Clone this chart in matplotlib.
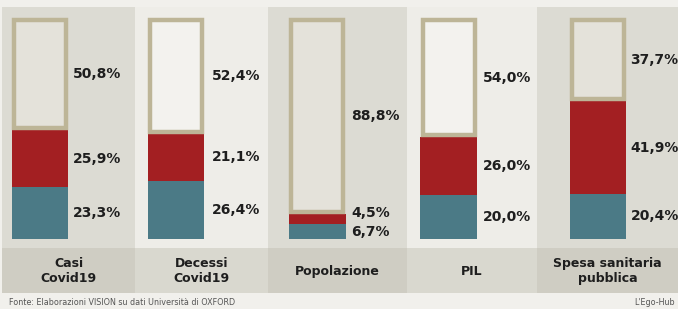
import matplotlib
matplotlib.use("Agg")
import matplotlib.pyplot as plt

# dati (percentuali)
categorie = ["Casi\nCovid19", "Decessi\nCovid19", "Popolazione", "PIL", "Spesa sanitaria\npubblica"]
blu = [23.3, 26.4, 6.7, 20.0, 20.4]
rosso = [25.9, 21.1, 4.5, 26.0, 41.9]
resto = [50.8, 52.4, 88.8, 54.0, 37.7]
etichette_blu = ["23,3%", "26,4%", "6,7%", "20,0%", "20,4%"]
etichette_rosso = ["25,9%", "21,1%", "4,5%", "26,0%", "41,9%"]
etichette_resto = ["50,8%", "52,4%", "88,8%", "54,0%", "37,7%"]

# impaginazione (unita' di categoria)
bordi = [-0.485, 0.497, 1.476, 2.501, 3.461, 4.5]
off_barra = [-0.205, -0.202, -0.162, -0.189, -0.090]
off_testo = [0.04, 0.06, 0.09, 0.06, 0.15]

C_BLU = "#4b7a86"
C_ROSSO = "#a31f22"
C_BORDO = "#bdb597"
FONDO = "#f1f0ec"
PANNELLO = ["#dcdbd3", "#eeede8"]
FASCIA = ["#cfcdc3", "#d9d8cf"]
INTERNO = ["#e4e2da", "#f3f2ee"]

fig = plt.figure(figsize=(6.78, 3.09), dpi=100)
fig.patch.set_facecolor(FONDO)
ax = fig.add_axes([0, 0, 1, 1])
ax.set_xlim(-0.5, 4.5)
ax.set_ylim(-31.7, 108.1)
ax.axis("off")

w = 0.42

for i, cat in enumerate(categorie):
    k = i % 2
    x0, x1 = bordi[i], bordi[i + 1]
    # pannello e fascia etichetta
    ax.fill_between([x0, x1], -24.4, 105, color=PANNELLO[k], lw=0, zorder=0)
    ax.fill_between([x0, x1], -24.4, -4.1, color=FASCIA[k], lw=0, zorder=0.5)

    x = i + off_barra[i]
    ax.bar(x, blu[i], width=w, color=C_BLU, zorder=2)
    ax.bar(x, rosso[i], bottom=blu[i], width=w, color=C_ROSSO, zorder=2)
    b0 = blu[i] + rosso[i]
    ax.bar(x, resto[i] - 2 * 1.0, bottom=b0 + 1.0, width=w - 0.032,
           facecolor=INTERNO[k], edgecolor=C_BORDO, linewidth=3.2, zorder=2)

    tx = i + off_testo[i]
    kw = dict(fontsize=10, fontweight="bold", color="#1e1e1e", va="center", ha="left", zorder=3)
    if i == 2:
        ax.text(tx, b0 + 0.4, etichette_rosso[i], **kw)
        ax.text(tx, blu[i] - 3.7, etichette_blu[i], **kw)
    else:
        ax.text(tx, blu[i] / 2, etichette_blu[i], **kw)
        ax.text(tx, blu[i] + rosso[i] / 2, etichette_rosso[i], **kw)
    ax.text(tx, b0 + resto[i] / 2, etichette_resto[i], **kw)

    ax.text((x0 + x1) / 2, -14.6, cat, fontsize=9, fontweight="bold", color="#1e1e1e",
            ha="center", va="center", linespacing=1.15, zorder=3)

fig.text(0.014, 0.022, "Fonte: Elaborazioni VISION su dati Università di OXFORD",
         fontsize=5.8, color="#555555", ha="left", va="center")
fig.text(0.995, 0.022, "L'Ego-Hub", fontsize=5.8, color="#555555", ha="right", va="center")

fig.savefig("out.png", dpi=100, facecolor=FONDO)
